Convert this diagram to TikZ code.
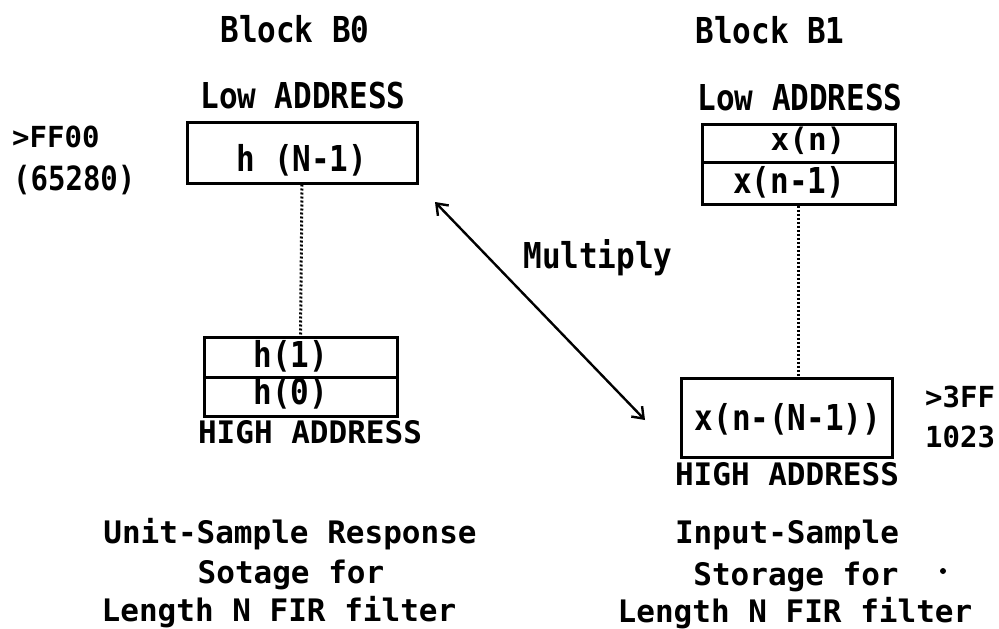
\documentclass[tikz,border=0pt]{standalone}
\usepackage{fontspec}
\usepackage{graphicx}
\newfontfamily\plotfont{DejaVu Sans Mono Bold}
\newcommand\tallt[1]{\scalebox{1}[1.15]{#1}}
\usetikzlibrary{arrows.meta}
\begin{document}
\begin{tikzpicture}[x=1pt,y=-1pt,
  txt/.style={font=\plotfont\fontsize{31}{31}\selectfont,inner sep=0pt,anchor=base},
  small/.style={font=\plotfont\fontsize{29}{29}\selectfont,inner sep=0pt,anchor=base west},
  cell/.style={draw,line width=3pt,inner sep=0pt},
  dotline/.style={line width=3pt,dash pattern=on 2pt off 2pt},
  arr/.style={line width=2.4pt,{Straight Barb[length=10pt,width=15pt,line width=2.4pt]}-{Straight Barb[length=10pt,width=15pt,line width=2.4pt]}}]
\useasboundingbox (0,0) rectangle (999,629);
% left block
\node[txt] (tB0) at (295,42) {\tallt{Block B0}};
\node[txt] (lowL) at (303,108) {\tallt{Low ADDRESS}};
\node[cell,minimum width=230pt,minimum height=61pt] (hN) at (302,152.5) {};
\node[txt] (thN) at (302,171) {\tallt{h (N-1)}};
\node[small] (ff) at (12,147) {>FF00};
\node[small] (ffd) at (13,190) {\tallt{(65280)}};
\node[cell,minimum width=193pt,minimum height=40pt] (h1) at (300.5,357) {};
\node[cell,minimum width=193pt,minimum height=39pt] (h0) at (300.5,396.5) {};
\node[txt] (th1) at (291,367) {\tallt{h(1)}};
\node[txt] (th0) at (291,404) {\tallt{h(0)}};
\node[txt] (highL) at (310,443) {HIGH ADDRESS};
\node[txt] (c1) at (290,543) {Unit-Sample Response};
\node[txt] (c2) at (291,583) {Sotage for};
\node[txt] (c3) at (279,621) {Length N FIR filter};
\draw[dotline] (hN.south) -- (h1.north);
% right block
\node[txt] (tB1) at (770,43) {\tallt{Block B1}};
\node[txt] (lowR) at (800,110) {\tallt{Low ADDRESS}};
\node[cell,minimum width=193pt,minimum height=38pt] (xn) at (798.5,143) {};
\node[cell,minimum width=193pt,minimum height=42pt] (xn1) at (798.5,183) {};
\node[txt] (txn) at (808,150) {x(n)};
\node[txt] (txn1) at (789,193) {\tallt{x(n-1)}};
\node[cell,minimum width=211pt,minimum height=79pt] (xN) at (786.5,417.5) {};
\node[txt] (txN) at (788,430) {\tallt{x(n-(N-1))}};
\node[small] (f3) at (925,407) {>3FF};
\node[small] (f3d) at (925,447) {1023};
\node[txt] (highR) at (787,485) {HIGH ADDRESS};
\node[txt] (d1) at (787,543) {Input-Sample};
\node[txt] (d2) at (796,585) {Storage for};
\node[txt] (d3) at (795,622) {Length N FIR filter};
\fill (943,571) circle (3pt);
\draw[dotline] (xn1.south) -- (xn1.south |- xN.north);
% multiply arrow
\node[txt] (mul) at (598,268) {\tallt{Multiply}};
\coordinate (a1) at (435,202);
\coordinate (a2) at (645,420);
\draw[arr] (a1) -- (a2);
\end{tikzpicture}
\end{document}
